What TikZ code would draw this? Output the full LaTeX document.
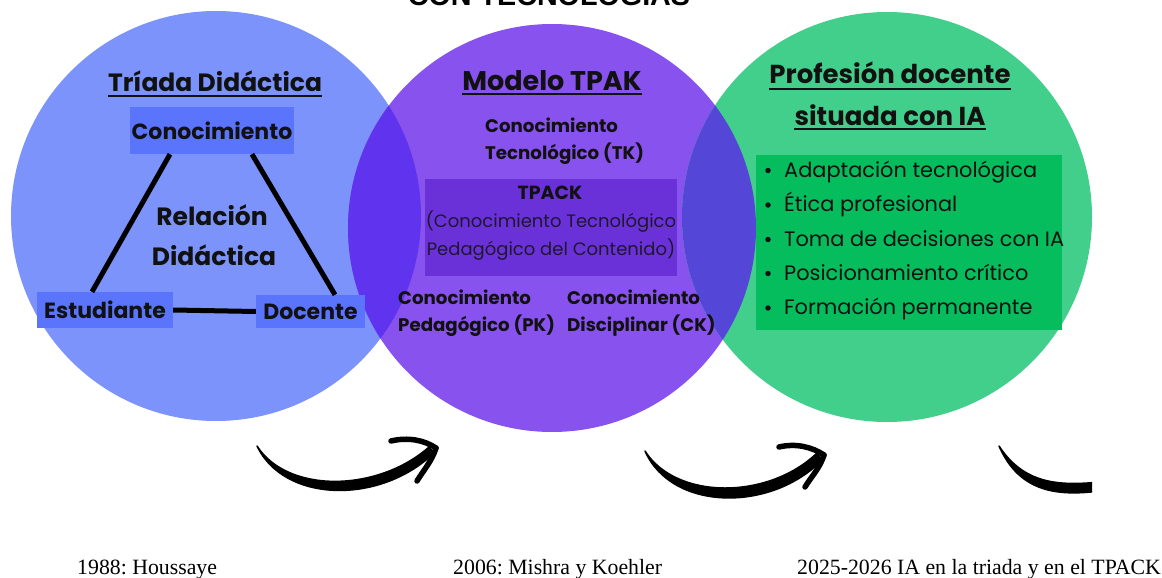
\documentclass[tikz,border=0pt]{standalone}
\usepackage{fontspec}
\newfontfamily\pop{Poppins}
\newfontfamily\tms{Liberation Serif}
\newfontfamily\ars{Liberation Sans}
\frenchspacing
\definecolor{cblue}{HTML}{7B93FA}
\definecolor{cpurple}{HTML}{8752EE}
\definecolor{cgreen}{HTML}{42CF8B}
\definecolor{cbp}{HTML}{6034EF}
\definecolor{cpg}{HTML}{5447D7}
\definecolor{boxblue}{HTML}{5A74FB}
\definecolor{boxpurple}{HTML}{6B31D9}
\definecolor{boxgreen}{HTML}{06BD5E}
\definecolor{ink}{HTML}{111111}
\tikzset{
  ttl/.style={font=\pop\bfseries\fontsize{25}{30}\selectfont, text=ink, inner sep=0pt, anchor=base},
  uline/.style={line width=2pt, draw=ink},
  boxtxt/.style={font=\pop\bfseries\fontsize{22}{26}\selectfont, text=ink, inner sep=0pt},
  rel/.style={font=\pop\bfseries\fontsize{25}{30}\selectfont, text=ink, inner sep=0pt, anchor=base},
  bsm/.style={font=\pop\bfseries\fontsize{18.2}{22}\selectfont, text=ink, inner sep=0pt, anchor=base west},
  rsm/.style={font=\pop\fontsize{18}{22}\selectfont, text=ink!85!boxpurple, inner sep=0pt, anchor=base},
  itm/.style={font=\pop\fontsize{20.9}{24}\selectfont, text=ink, inner sep=0pt, anchor=base west},
  dot/.style={fill=ink, circle, inner sep=0pt, minimum size=5.5pt},
  edge/.style={line width=5pt, draw=black},
  brush/.style={fill=black, draw=black, line width=1.5pt, line join=round},
  barb/.style={draw=black, line width=5.5pt, line cap=round},
  yr/.style={font=\tms\fontsize{21.8}{24}\selectfont, inner sep=0pt, anchor=base west}
}
\begin{document}
\begin{tikzpicture}[x=1pt,y=-1pt]
\useasboundingbox (0,0) rectangle (1162,578);
\clip (0,0) rectangle (1162,578);
\fill[white] (0,0) rectangle (1162,578);
% circles
\fill[cblue] (216,216) circle (205pt);
\fill[cpurple] (552,228) circle (204pt);
\fill[cgreen] (887,217) circle (205pt);
\begin{scope}
  \clip (552,228) circle (204pt);
  \fill[cbp] (216,216) circle (205pt);
\end{scope}
\begin{scope}
  \clip (552,228) circle (204pt);
  \fill[cpg] (887,217) circle (205pt);
\end{scope}
% cut top title
\node[font=\ars\bfseries\fontsize{28.7}{30}\selectfont, inner sep=0pt, anchor=base] (toptitle) at (549,5.5) {CON TECNOLOGÍAS};
% ---------- Triada ----------
\node[ttl] (t1) at (215,92) {Tríada Didáctica};
\draw[uline] ([yshift=-4pt]t1.base west) -- ([yshift=-4pt]t1.base east);
\node[boxtxt, fill=boxblue, minimum width=164pt, minimum height=47pt] (cono) at (212,130.5) {Conocimiento};
\node[boxtxt, fill=boxblue, minimum width=136pt, minimum height=36pt] (est) at (105,310) {Estudiante};
\node[boxtxt, fill=boxblue, minimum width=109pt, minimum height=33pt] (doc) at (310.5,311.5) {Docente};
\node[rel] (rel1) at (212,225) {Relación};
\node[rel] (rel2) at (214,265) {Didáctica};
\draw[edge] ([xshift=-42pt]cono.south) -- ([xshift=-13pt]est.north);
\draw[edge] ([xshift=40pt]cono.south) -- ([xshift=24.5pt]doc.north);
\draw[edge] (est.east) -- (doc.west);
% ---------- TPAK ----------
\node[ttl, font=\pop\bfseries\fontsize{27}{30}\selectfont] (t2) at (552,90) {Modelo TPAK};
\draw[uline] ([yshift=-4pt]t2.base west) -- ([yshift=-4pt]t2.base east);
\node[bsm] (tk1) at (485,132) {Conocimiento};
\node[bsm] (tk2) at (485,159) {Tecnológico (TK)};
\node[fill=boxpurple, minimum width=252pt, minimum height=97pt, inner sep=0pt] (tpbox) at (551,227.5) {};
\node[bsm, anchor=base, font=\pop\bfseries\fontsize{19}{22}\selectfont] (tp1) at (550,199) {TPACK};
\node[rsm] (tp2) at (551,227) {(Conocimiento Tecnológico};
\node[rsm] (tp3) at (551,255) {Pedagógico del Contenido)};
\node[bsm] (pk1) at (398,304) {Conocimiento};
\node[bsm] (pk2) at (398,331) {Pedagógico (PK)};
\node[bsm] (ck1) at (567,304) {Conocimiento};
\node[bsm] (ck2) at (567,331) {Disciplinar (CK)};
% ---------- Profesion ----------
\node[ttl, font=\pop\bfseries\fontsize{26}{30}\selectfont] (t3a) at (890,84) {Profesión docente};
\draw[uline] ([yshift=-5pt]t3a.base west) -- ([yshift=-5pt]t3a.base east);
\node[ttl, font=\pop\bfseries\fontsize{26}{30}\selectfont] (t3b) at (890,125) {situada con IA};
\draw[uline] ([yshift=-4pt]t3b.base west) -- ([yshift=-4pt]t3b.base east);
\node[fill=boxgreen, minimum width=306pt, minimum height=175pt, inner sep=0pt] (gbox) at (909,242.5) {};
\foreach \yy/\tx [count=\i] in {177/{Adaptación tecnológica},211.5/{Ética profesional},246/{Toma de decisiones con IA},280/{Posicionamiento crítico},314.5/{Formación permanente}}{
  \node[dot] (b\i) at (768,\yy-6.5) {};
  \node[itm] (it\i) at (784,\yy) {\tx};
}
% ---------- arrows ----------
\coordinate (a1s) at (257,446);
\coordinate (a1t) at (436,448);
\fill[brush] (a1s) .. controls (284,503) and (380,505) .. (434,453) -- (429,447) .. controls (378,492) and (288,494) .. (a1s) -- cycle;
\draw[barb] (391,441) .. controls (408,437) and (424,440) .. (a1t);
\draw[barb] (a1t) .. controls (432,461) and (423,471) .. (417,481);
\coordinate (a2s) at (645,451);
\coordinate (a2t) at (824,455);
\fill[brush] (a2s) .. controls (672,512) and (772,512) .. (822,460) -- (817,453) .. controls (768,500) and (676,500) .. (a2s) -- cycle;
\draw[barb] (779,447) .. controls (796,443) and (812,447) .. (a2t);
\draw[barb] (a2t) .. controls (820,468) and (811,477) .. (805,487);
\begin{scope}
  \clip (0,0) rectangle (1092,578);
  \coordinate (a3s) at (999,446);
  \fill[brush] (a3s) .. controls (1020,494) and (1060,496) .. (1100,491) -- (1100,482) .. controls (1058,486) and (1024,484) .. (a3s) -- cycle;
\end{scope}
% ---------- years ----------
\node[yr] (y1) at (77,574) {1988: Houssaye};
\node[yr] (y2) at (453,574) {2006: Mishra y Koehler};
\node[yr] (y3) at (797,574) {2025-2026 IA en la triada y en el TPACK};
\end{tikzpicture}
\end{document}
